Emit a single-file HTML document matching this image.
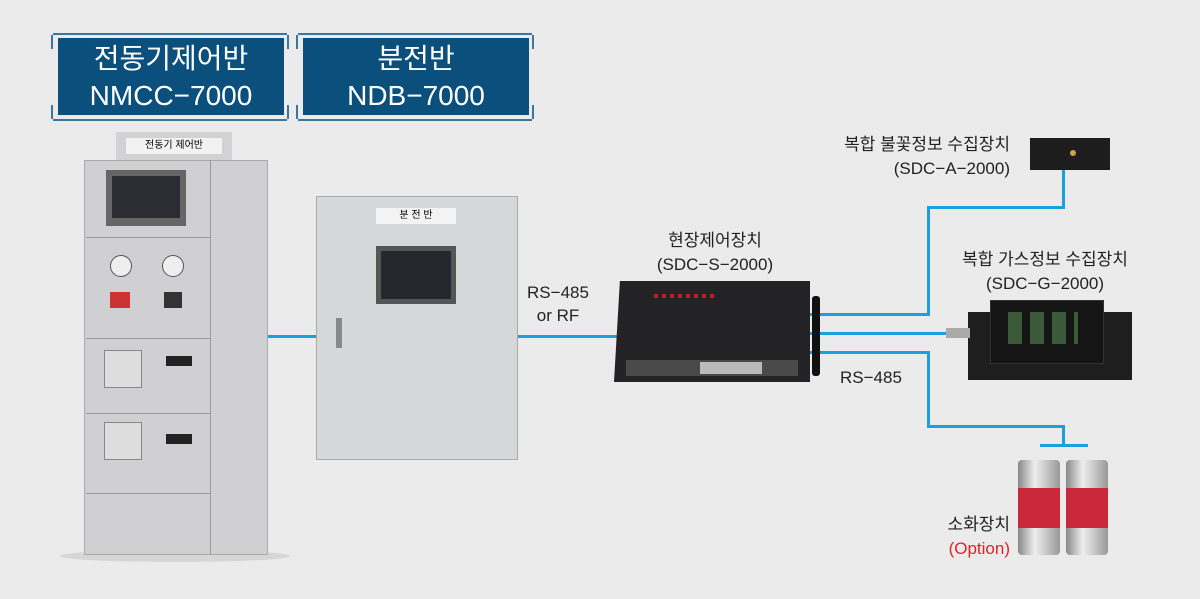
<!DOCTYPE html>
<html><head><meta charset="utf-8"><style>
body{margin:0;width:1200px;height:599px;background:#ebebeb;position:relative;overflow:hidden;font-family:"Liberation Sans","Noto Sans CJK KR",sans-serif;}
.a{position:absolute;}
.hdr{position:absolute;background:#0b507d;color:#fff;text-align:center;font-size:28px;line-height:37px;}
.frm{position:absolute;border-top:2px solid #3a77a0;border-bottom:2px solid #3a77a0;}
.frm:before,.frm:after{content:"";position:absolute;top:0;bottom:0;width:0;border-left:2px solid #3a77a0;border-right:2px solid #3a77a0;}
.frm:before{left:-2px;width:calc(100% + 0px);border-color:#3a77a0;-webkit-mask:linear-gradient(#000 0 14px,transparent 14px calc(100% - 14px),#000 calc(100% - 14px));mask:linear-gradient(#000 0 14px,transparent 14px calc(100% - 14px),#000 calc(100% - 14px));}
.frm:after{display:none;}
.ln{position:absolute;background:#1aa0df;}
.t{position:absolute;font-size:17px;color:#222;line-height:24px;white-space:nowrap;}
</style></head><body>
<!-- headers -->
<div class="frm" style="left:53px;top:33px;width:234px;height:84px;"></div>
<div class="hdr" style="left:58px;top:38px;width:226px;height:77px;padding-top:2px;box-sizing:border-box;">전동기제어반<br>NMCC−7000</div>
<div class="frm" style="left:298px;top:33px;width:234px;height:84px;"></div>
<div class="hdr" style="left:303px;top:38px;width:226px;height:77px;padding-top:2px;box-sizing:border-box;">분전반<br>NDB−7000</div>
<!-- cabinet 1 -->
<div class="a" style="left:60px;top:550px;width:230px;height:12px;background:#d6d6d6;border-radius:50%;"></div>
<div class="a" style="left:116px;top:132px;width:116px;height:30px;background:#d2d2d5;"></div>
<div class="a" style="left:126px;top:138px;width:96px;height:16px;background:#f2f2f2;font-size:10px;text-align:center;line-height:16px;">전동기 제어반</div>
<div class="a" style="left:84px;top:160px;width:184px;height:395px;background:#d0d0d3;border:1px solid #aaa;box-sizing:border-box;"></div>
<div class="a" style="left:210px;top:160px;width:1px;height:395px;background:#999;"></div>
<div class="a" style="left:86px;top:237px;width:124px;height:1px;background:#999;"></div>
<div class="a" style="left:86px;top:338px;width:124px;height:1px;background:#999;"></div>
<div class="a" style="left:86px;top:413px;width:124px;height:1px;background:#999;"></div>
<div class="a" style="left:86px;top:493px;width:124px;height:1px;background:#999;"></div>
<div class="a" style="left:106px;top:170px;width:80px;height:56px;background:#666;"></div>
<div class="a" style="left:112px;top:176px;width:68px;height:42px;background:#2b2d33;"></div>
<div class="a" style="left:110px;top:255px;width:20px;height:20px;border-radius:50%;background:#eee;border:1px solid #555;"></div>
<div class="a" style="left:162px;top:255px;width:20px;height:20px;border-radius:50%;background:#eee;border:1px solid #555;"></div>
<div class="a" style="left:110px;top:292px;width:20px;height:16px;background:#c33;"></div>
<div class="a" style="left:164px;top:292px;width:18px;height:16px;background:#333;"></div>
<div class="a" style="left:104px;top:350px;width:36px;height:36px;background:#ddd;border:1px solid #888;"></div>
<div class="a" style="left:104px;top:422px;width:36px;height:36px;background:#ddd;border:1px solid #888;"></div>
<div class="a" style="left:166px;top:356px;width:26px;height:10px;background:#222;"></div>
<div class="a" style="left:166px;top:434px;width:26px;height:10px;background:#222;"></div>
<!-- cabinet 2 -->
<div class="a" style="left:316px;top:196px;width:202px;height:264px;background:#d6d7d9;border:1px solid #aaa;box-sizing:border-box;"></div>
<div class="a" style="left:376px;top:208px;width:80px;height:16px;background:#f3f3f3;font-size:10px;text-align:center;line-height:16px;">분 전 반</div>
<div class="a" style="left:376px;top:246px;width:80px;height:58px;background:#555;"></div>
<div class="a" style="left:381px;top:251px;width:70px;height:48px;background:#26282e;"></div>
<div class="a" style="left:336px;top:318px;width:6px;height:30px;background:#888;"></div>
<!-- lines -->
<div class="ln" style="left:268px;top:335px;width:48px;height:3px;"></div>
<div class="ln" style="left:518px;top:335px;width:100px;height:3px;"></div>
<div class="ln" style="left:810px;top:313px;width:120px;height:3px;"></div>
<div class="ln" style="left:927px;top:206px;width:3px;height:110px;"></div>
<div class="ln" style="left:927px;top:206px;width:138px;height:3px;"></div>
<div class="ln" style="left:1062px;top:168px;width:3px;height:41px;"></div>
<div class="ln" style="left:810px;top:332px;width:140px;height:3px;"></div>
<div class="ln" style="left:810px;top:351px;width:120px;height:3px;"></div>
<div class="ln" style="left:927px;top:351px;width:3px;height:77px;"></div>
<div class="ln" style="left:927px;top:425px;width:138px;height:3px;"></div>
<div class="ln" style="left:1062px;top:425px;width:3px;height:22px;"></div>
<div class="ln" style="left:1040px;top:444px;width:48px;height:3px;"></div>
<!-- controller -->
<div class="a" style="left:812px;top:296px;width:8px;height:80px;background:#111;border-radius:3px;"></div>
<div class="a" style="left:614px;top:281px;width:196px;height:101px;background:#232325;clip-path:polygon(3% 0,100% 0,100% 100%,0 100%);"></div>
<div class="a" style="left:626px;top:360px;width:172px;height:16px;background:#4a4a4a;"></div>
<div class="a" style="left:700px;top:362px;width:62px;height:12px;background:#bbb;"></div>
<div class="a" style="left:654px;top:294px;width:60px;height:4px;background:repeating-linear-gradient(90deg,#b22 0 4px,transparent 4px 8px);"></div>
<!-- fire device -->
<div class="a" style="left:1030px;top:138px;width:80px;height:32px;background:#1d1d1d;"></div>
<div class="a" style="left:1070px;top:150px;width:6px;height:6px;border-radius:50%;background:#c9a44a;"></div>
<!-- gas device -->
<div class="a" style="left:968px;top:312px;width:164px;height:68px;background:#1e1e1e;"></div>
<div class="a" style="left:990px;top:300px;width:112px;height:62px;background:#151515;border:1px solid #333;"></div>
<div class="a" style="left:1008px;top:312px;width:70px;height:32px;background:repeating-linear-gradient(90deg,#3a5a3a 0 14px,#151515 14px 22px);"></div>
<div class="a" style="left:946px;top:328px;width:24px;height:10px;background:#aaa;"></div>
<!-- extinguishers -->
<div class="a" style="left:1018px;top:460px;width:42px;height:95px;background:linear-gradient(90deg,#888,#eee 40%,#999);border-radius:4px;"></div>
<div class="a" style="left:1066px;top:460px;width:42px;height:95px;background:linear-gradient(90deg,#888,#eee 40%,#999);border-radius:4px;"></div>
<div class="a" style="left:1018px;top:488px;width:42px;height:40px;background:#c8283a;"></div>
<div class="a" style="left:1066px;top:488px;width:42px;height:40px;background:#c8283a;"></div>
<!-- labels -->
<div class="t" style="left:520px;top:281px;width:76px;text-align:center;line-height:23px;">RS−485<br>or RF</div>
<div class="t" style="left:630px;top:229px;width:170px;text-align:center;">현장제어장치<br>(SDC−S−2000)</div>
<div class="t" style="left:780px;top:133px;width:230px;text-align:right;">복합 불꽃정보 수집장치<br>(SDC−A−2000)</div>
<div class="t" style="left:930px;top:248px;width:230px;text-align:center;">복합 가스정보 수집장치<br>(SDC−G−2000)</div>
<div class="t" style="left:840px;top:366px;">RS−485</div>
<div class="t" style="left:900px;top:513px;width:110px;text-align:right;">소화장치<br><span style="color:#e0222a;">(Option)</span></div>
</body></html>
